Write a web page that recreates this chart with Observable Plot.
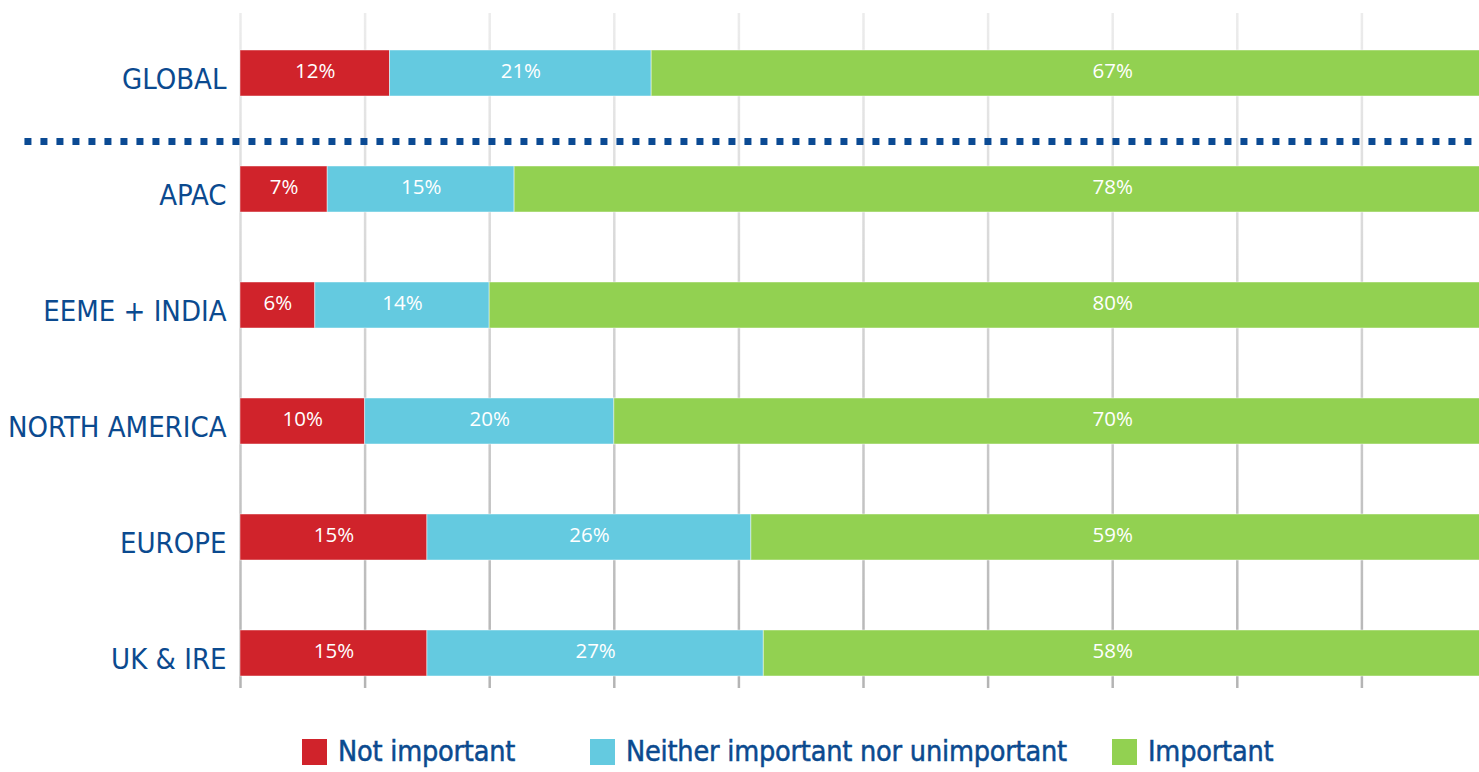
<!DOCTYPE html>
<html>
<head>
<meta charset="utf-8">
<script src="https://cdn.jsdelivr.net/npm/d3@7"></script>
<script src="https://cdn.jsdelivr.net/npm/@observablehq/plot@0.6"></script>
<style>
  html, body { margin: 0; padding: 0; background: #fff; }
  #chart svg { display: block; overflow: visible; }
  #legend { position: relative; height: 52px; font-family: "DejaVu Sans Condensed", sans-serif; font-size: 28.5px; letter-spacing: -0.2px; color: #0b4a8f; -webkit-text-stroke: 0.5px #0b4a8f; }
  .item { position: absolute; top: 15px; display: flex; align-items: center; white-space: nowrap; }
  .sw { width: 25px; height: 26px; margin-right: 11px; }
</style>
</head>
<body>
<div id="chart"></div>
<div id="legend"></div>
<script>
const regions = ["GLOBAL", "APAC", "EEME + INDIA", "NORTH AMERICA", "EUROPE", "UK & IRE"];
const categories = ["Not important", "Neither important nor unimportant", "Important"];
const colors = ["#d0232b", "#64cae0", "#92d151"];
const notImportant = [12, 7, 6, 10, 15, 15];
const neither = [21, 15, 14, 20, 26, 27];
const important = [67, 78, 80, 70, 59, 58];
const gridTicks = [0, 10, 20, 30, 40, 50, 60, 70, 80, 90, 100];
const importantLabelAt = 70; // labels of the "Important" segment sit at the 70% grid line

const series = [notImportant, neither, important];
const data = [];
regions.forEach((r, i) => {
  categories.forEach((c, j) => {
    data.push({region: r, category: c, value: series[j][i]});
  });
});

const W = 1479, H = 720;
const step = 116.8;

const plot = Plot.plot({
  width: W,
  height: H,
  marginTop: 13,
  marginBottom: 32,
  marginLeft: 240,
  marginRight: 0,
  style: {fontFamily: "'DejaVu Sans Condensed', sans-serif", background: "transparent"},
  x: {domain: [0, 100], range: [240, 1486], axis: null},
  y: {domain: regions, range: [13, 13 + 6 * step], paddingInner: 0.6, paddingOuter: 0.3, axis: null},
  color: {domain: categories, range: colors},
  marks: [
    Plot.ruleX(gridTicks, {x: d => d, stroke: "url(#gridgrad)", strokeWidth: 2.5}),
    Plot.ruleY(["GLOBAL"], {y: d => d, dy: 68, x1: -17.3, x2: 100, stroke: "#0b4a93", strokeWidth: 7, strokeDasharray: "7,9"}),
    Plot.barX(data, Plot.stackX({x: "value", y: "region", fill: "category", stroke: "#ffffff", strokeOpacity: 0.45, strokeWidth: 1})),
    Plot.text(data.filter(d => d.category !== "Important"), Plot.stackX({x: "value", y: "region", text: d => d.value + "%", fill: "white", fontSize: 20.5, fontWeight: 500, dy: -2, fontFamily: "'Open Sans', sans-serif"})),
    Plot.text(data.filter(d => d.category === "Important"), {x: () => importantLabelAt, y: "region", text: d => d.value + "%", fill: "white", fontSize: 20.5, fontWeight: 500, dy: -2, fontFamily: "'Open Sans', sans-serif"}),
    Plot.axisY({tickSize: 0, tickPadding: 14, fontSize: 29, fill: "#0b4a8f", stroke: "#0b4a8f", strokeWidth: 0.5, dy: 6, label: null})
  ]
});

// gradient for grid lines (lighter at top, darker at bottom)
const ns = "http://www.w3.org/2000/svg";
const defs = document.createElementNS(ns, "defs");
const lg = document.createElementNS(ns, "linearGradient");
lg.setAttribute("id", "gridgrad");
lg.setAttribute("gradientUnits", "userSpaceOnUse");
lg.setAttribute("x1", "0"); lg.setAttribute("x2", "0");
lg.setAttribute("y1", "13"); lg.setAttribute("y2", "688");
[["0", "#ececec"], ["1", "#b4b4b4"]].forEach(([o, c]) => {
  const s = document.createElementNS(ns, "stop");
  s.setAttribute("offset", o); s.setAttribute("stop-color", c);
  lg.appendChild(s);
});
defs.appendChild(lg);
plot.insertBefore(defs, plot.firstChild);

document.getElementById("chart").appendChild(plot);

const legend = document.getElementById("legend");
const lefts = [302, 590, 1112];
categories.forEach((c, i) => {
  const it = document.createElement("div");
  it.className = "item";
  it.style.left = lefts[i] + "px";
  const sw = document.createElement("div");
  sw.className = "sw";
  sw.style.background = colors[i];
  const t = document.createElement("span");
  t.textContent = c;
  it.appendChild(sw); it.appendChild(t);
  legend.appendChild(it);
});
</script>
</body>
</html>
